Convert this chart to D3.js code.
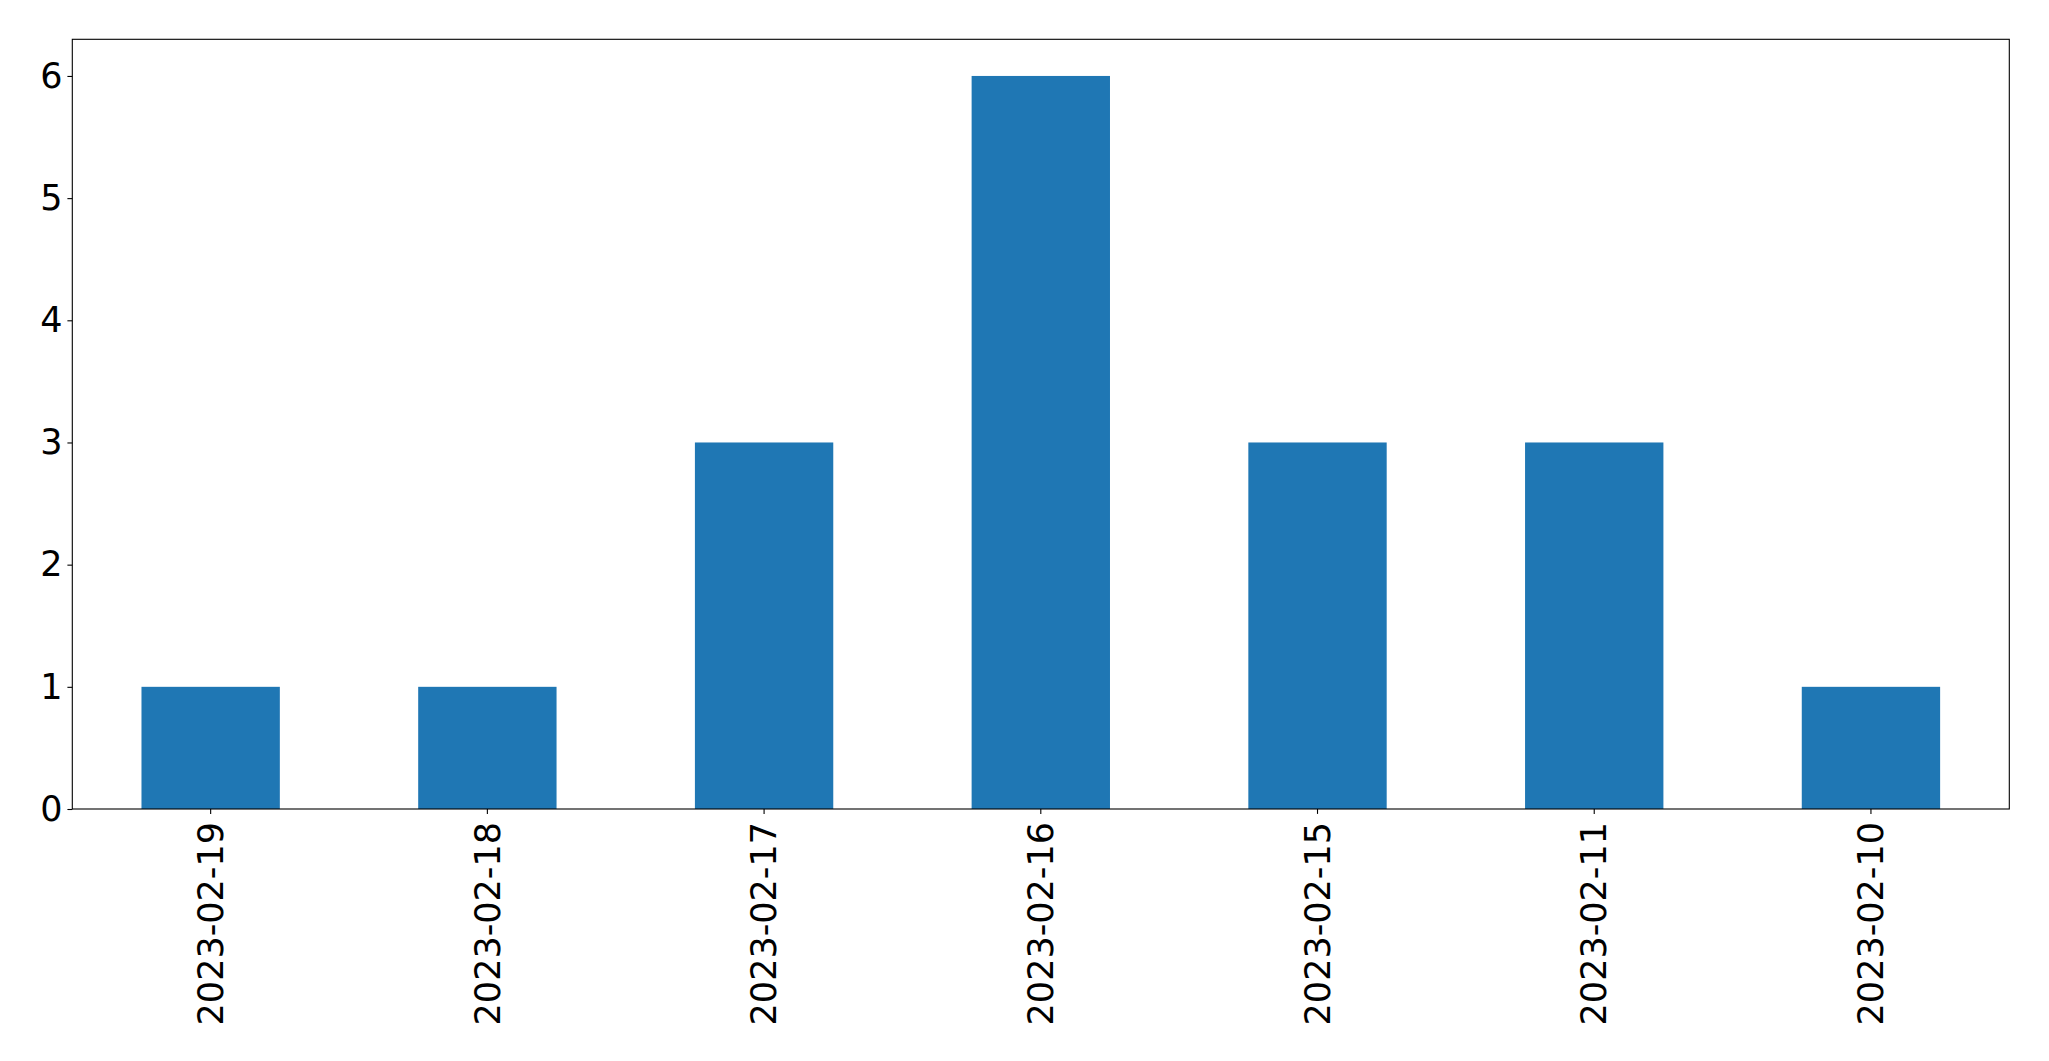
<!DOCTYPE html>
<html><head><meta charset="utf-8">
<script src="https://cdn.jsdelivr.net/npm/d3@7"></script>
<style>body{margin:0;background:#fff}svg{display:block}text{font-family:"DejaVu Sans",sans-serif}</style>
</head><body>
<script>
const categories = ["2023-02-19","2023-02-18","2023-02-17","2023-02-16","2023-02-15","2023-02-11","2023-02-10"];
const values = [1,1,3,6,3,3,1];
const yTicks = [0,1,2,3,4,5,6];

const W = 2049, H = 1061;
const m = {left:72.3, right:2009.3, top:39.3, bottom:809};
const svg = d3.select("body").append("svg").attr("width",W).attr("height",H);

const x = d3.scaleBand().domain(categories).range([m.left,m.right]).paddingInner(0.5).paddingOuter(0.25);
const y = d3.scaleLinear().domain([0,6.3]).range([m.bottom,m.top]);

svg.append("g").selectAll("rect").data(values).join("rect")
  .attr("x",(d,i)=>x(categories[i])).attr("width",x.bandwidth())
  .attr("y",d=>y(d)).attr("height",d=>y(0)-y(d)).attr("fill","#1f77b4");

const fs = 35;
const ya = svg.append("g").attr("transform",`translate(${m.left},0)`)
  .call(d3.axisLeft(y).tickValues(yTicks).tickSize(4.9).tickPadding(4.9).tickFormat(d3.format("d")));
ya.select(".domain").remove();
ya.selectAll("text").attr("font-size",fs).attr("fill","#000").attr("font-family","DejaVu Sans");
ya.selectAll("line").attr("stroke","#000").attr("stroke-width",1.1);

const xa = svg.append("g").attr("transform",`translate(0,${m.bottom})`)
  .call(d3.axisBottom(x).tickSize(4.9).tickPadding(4.9));
xa.select(".domain").remove();
xa.selectAll("line").attr("stroke","#000").attr("stroke-width",1.1);
xa.selectAll("text").attr("font-size",fs).attr("fill","#000").attr("font-family","DejaVu Sans")
  .attr("transform","rotate(-90)").attr("text-anchor","end").attr("dy","0.35em")
  .attr("x",-13).attr("y",0);

svg.append("rect").attr("x",m.left).attr("y",m.top).attr("width",m.right-m.left).attr("height",m.bottom-m.top)
  .attr("fill","none").attr("stroke","#000").attr("stroke-width",1.1);
</script>
</body></html>
